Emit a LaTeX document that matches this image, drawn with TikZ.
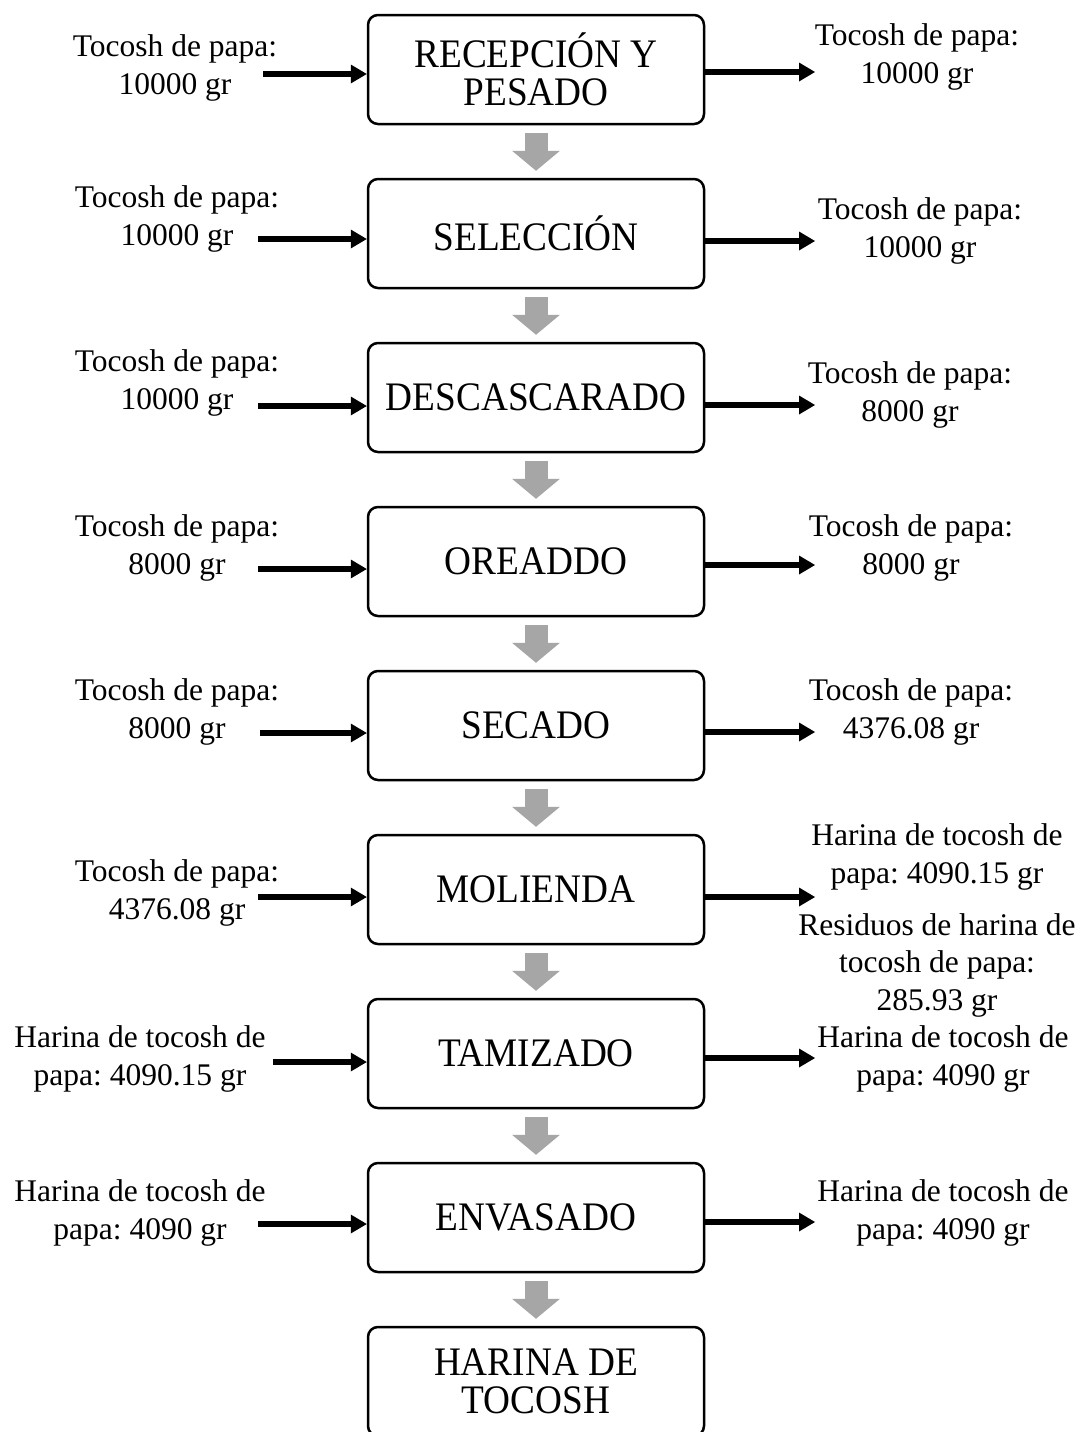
\documentclass[tikz,border=0pt]{standalone}
\usepackage{fontspec}
\setmainfont{Liberation Serif}
\newfontfamily\boxfont[FakeStretch=0.92]{Liberation Serif}
\usetikzlibrary{arrows.meta}
\definecolor{grayarrow}{RGB}{166,166,166}
\frenchspacing
\tikzset{
  box/.style={draw, line width=2.5pt, rounded corners=10pt, minimum width=336pt,
    minimum height=109pt, inner sep=0pt, align=center,
    font=\boxfont\fontsize{40.5}{38}\selectfont},
  lbl/.style={align=center, inner sep=0pt, font=\fontsize{31.5}{37.5}\selectfont},
  blk/.style={line width=5.5pt, -{Triangle[length=16pt,width=19pt,line width=0pt]}},
  gry/.style={draw=grayarrow, line width=23pt, -{Triangle[length=20pt,width=48pt,line width=0pt]}},
}
\begin{document}
\begin{tikzpicture}[x=1pt,y=-1pt]
\useasboundingbox (0,0) rectangle (1081,1432);
\fill[white] (0,0) rectangle (1081,1432);
% process boxes
\node[box] (b1) at (536,69.5)   {RECEPCIÓN Y\\PESADO};
\node[box] (b2) at (536,233.5)  {SELECCIÓN};
\node[box] (b3) at (536,397.5)  {DESCASCARADO};
\node[box] (b4) at (536,561.5)  {OREADDO};
\node[box] (b5) at (536,725.5)  {SECADO};
\node[box] (b6) at (536,889.5)  {MOLIENDA};
\node[box] (b7) at (536,1053.5) {TAMIZADO};
\node[box] (b8) at (536,1217.5) {ENVASADO};
\node[box] (b9) at (536,1381.5) {HARINA DE\\TOCOSH};
% grey flow arrows
\foreach \a/\b in {b1/b2,b2/b3,b3/b4,b4/b5,b5/b6,b6/b7,b7/b8,b8/b9}
  \draw[gry] ([yshift=-8pt]\a.south) -- ([yshift=7pt]\b.north);
% left labels
\node[lbl] (l1) at (175,68)   {Tocosh de papa:\\10000 gr};
\node[lbl] (l2) at (177,219)  {Tocosh de papa:\\10000 gr};
\node[lbl] (l3) at (177,383)  {Tocosh de papa:\\10000 gr};
\node[lbl] (l4) at (177,548)  {Tocosh de papa:\\8000 gr};
\node[lbl] (l5) at (177,712)  {Tocosh de papa:\\8000 gr};
\node[lbl] (l6) at (177,893)  {Tocosh de papa:\\4376.08 gr};
\node[lbl] (l7) at (140,1059) {Harina de tocosh de\\papa: 4090.15 gr};
\node[lbl] (l8) at (140,1213) {Harina de tocosh de\\papa: 4090 gr};
% right labels
\node[lbl] (r1) at (917,57)   {Tocosh de papa:\\10000 gr};
\node[lbl] (r2) at (920,231)  {Tocosh de papa:\\10000 gr};
\node[lbl] (r3) at (910,395)  {Tocosh de papa:\\8000 gr};
\node[lbl] (r4) at (911,548)  {Tocosh de papa:\\8000 gr};
\node[lbl] (r5) at (911,712)  {Tocosh de papa:\\4376.08 gr};
\node[lbl] (r6) at (937,857)  {Harina de tocosh de\\papa: 4090.15 gr};
\node[lbl] (r6b) at (937,965) {Residuos de harina de\\tocosh de papa:\\285.93 gr};
\node[lbl] (r7) at (943,1059) {Harina de tocosh de\\papa: 4090 gr};
\node[lbl] (r8) at (943,1213) {Harina de tocosh de\\papa: 4090 gr};
% arrow end coordinates
\coordinate (s1) at (263,74);
\coordinate (s2) at (258,239);
\coordinate (s3) at (258,406);
\coordinate (s4) at (258,569);
\coordinate (s5) at (260,733);
\coordinate (s6) at (258,897);
\coordinate (s7) at (273,1062);
\coordinate (s8) at (258,1224);
\coordinate (e1) at (815,72);
\coordinate (e2) at (815,241);
\coordinate (e3) at (815,405);
\coordinate (e4) at (815,565);
\coordinate (e5) at (815,732);
\coordinate (e6) at (815,897);
\coordinate (e7) at (815,1058);
\coordinate (e8) at (815,1222);
\foreach \i in {1,...,8}{
  \draw[blk] (s\i) -- (s\i -| b\i.west);
  \draw[blk] (e\i -| b\i.east) -- (e\i);
}
\end{tikzpicture}
\end{document}
